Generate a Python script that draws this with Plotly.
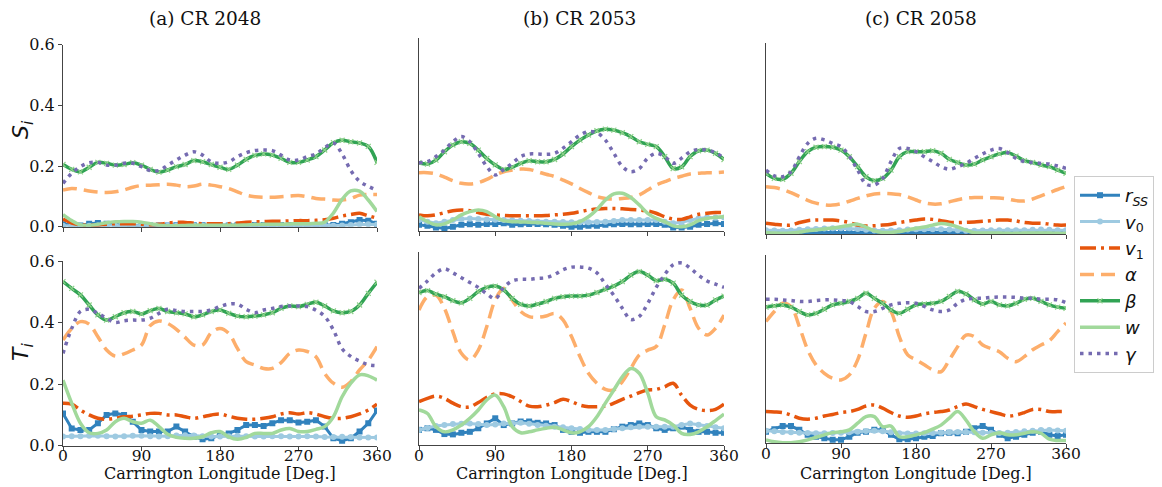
import plotly.graph_objects as go

W, H = 1162, 487
OFF = 8  # page body margin in the browser

LON = [0, 10, 20, 30, 40, 50, 60, 70, 80, 90, 100, 110, 120, 130, 140, 150, 160, 170, 180,
       190, 200, 210, 220, 230, 240, 250, 260, 270, 280, 290, 300, 310, 320, 330, 340, 350, 360]
X_TICKS = [0, 90, 180, 270, 360]
Y_TICKS = [0.0, 0.2, 0.4, 0.6]
Y_TICK_TEXT = ["0.0", "0.2", "0.4", "0.6"]
TITLES = ["(a) CR 2048", "(b) CR 2053", "(c) CR 2058"]
SERIES = ["rss", "v0", "v1", "alpha", "beta", "w", "gamma"]
LABELS = ["<i>r</i><sub><i>SS</i></sub>", "<i>v</i><sub>0</sub>", "<i>v</i><sub>1</sub>",
          "<i>α</i>", "<i>β</i>", "<i>w</i>", "<i>γ</i>"]

# ---------------- CR 2048, S_i ----------------
RSS_S_2048 = [0.008, 0.005, 0.004, 0.01, 0.012, 0.01, 0.006, 0.004, 0.004, 0.004, 0.004, 0.004, 0.004, 0.005, 0.005, 0.005, 0.005, 0.004, 0.004,
              0.004, 0.005, 0.005, 0.006, 0.006, 0.006, 0.006, 0.006, 0.006, 0.006, 0.006, 0.006, 0.006, 0.01, 0.015, 0.022, 0.02, 0.01]
V0_S_2048 = [0.003, 0.003, 0.002, 0.003, 0.004, 0.004, 0.003, 0.003, 0.003, 0.003, 0.002, 0.002, 0.003, 0.003, 0.004, 0.004, 0.003, 0.003, 0.003,
             0.003, 0.003, 0.003, 0.004, 0.004, 0.004, 0.004, 0.003, 0.003, 0.003, 0.003, 0.003, 0.003, 0.004, 0.006, 0.008, 0.008, 0.007]
V1_S_2048 = [0.025, 0.012, 0.006, 0.005, 0.006, 0.008, 0.01, 0.01, 0.01, 0.008, 0.006, 0.008, 0.012, 0.015, 0.014, 0.012, 0.01, 0.01, 0.01,
             0.01, 0.012, 0.015, 0.016, 0.017, 0.018, 0.018, 0.019, 0.02, 0.02, 0.021, 0.023, 0.028, 0.035, 0.04, 0.044, 0.036, 0.028]
ALPHA_S_2048 = [0.121, 0.126, 0.123, 0.118, 0.114, 0.113, 0.115, 0.121, 0.13, 0.136, 0.137, 0.138, 0.14, 0.137, 0.132, 0.134, 0.14, 0.137, 0.132,
                0.126, 0.115, 0.104, 0.099, 0.097, 0.097, 0.099, 0.101, 0.103, 0.099, 0.093, 0.091, 0.088, 0.088, 0.093, 0.104, 0.106, 0.106]
BETA_S_2048 = [0.205, 0.189, 0.181, 0.196, 0.212, 0.209, 0.203, 0.205, 0.211, 0.203, 0.189, 0.18, 0.187, 0.198, 0.205, 0.218, 0.214, 0.205, 0.196,
               0.189, 0.203, 0.222, 0.235, 0.24, 0.236, 0.225, 0.212, 0.212, 0.22, 0.231, 0.253, 0.277, 0.285, 0.28, 0.276, 0.265, 0.212]
W_S_2048 = [0.04, 0.02, 0.006, 0.004, 0.008, 0.013, 0.016, 0.017, 0.017, 0.015, 0.01, 0.005, 0.003, 0.003, 0.004, 0.005, 0.005, 0.005, 0.005,
            0.005, 0.005, 0.006, 0.007, 0.008, 0.008, 0.008, 0.009, 0.01, 0.01, 0.011, 0.015, 0.045, 0.09, 0.118, 0.117, 0.088, 0.05]
GAMMA_S_2048 = [0.143, 0.176, 0.198, 0.211, 0.212, 0.203, 0.203, 0.209, 0.209, 0.198, 0.185, 0.185, 0.203, 0.22, 0.236, 0.247, 0.236, 0.214, 0.209,
                0.214, 0.231, 0.244, 0.251, 0.253, 0.251, 0.236, 0.22, 0.22, 0.231, 0.24, 0.26, 0.276, 0.24, 0.185, 0.15, 0.133, 0.12]

# ---------------- CR 2048, T_i ----------------
RSS_T_2048 = [0.105, 0.056, 0.051, 0.051, 0.073, 0.1, 0.105, 0.1, 0.078, 0.051, 0.046, 0.046, 0.046, 0.062, 0.046, 0.029, 0.021, 0.024, 0.035,
              0.04, 0.051, 0.067, 0.067, 0.064, 0.073, 0.083, 0.083, 0.075, 0.078, 0.083, 0.062, 0.024, 0.016, 0.024, 0.046, 0.073, 0.114]
V0_T_2048 = [0.03, 0.031, 0.031, 0.032, 0.032, 0.031, 0.03, 0.031, 0.032, 0.032, 0.031, 0.03, 0.031, 0.033, 0.034, 0.033, 0.031, 0.03, 0.03,
             0.031, 0.032, 0.031, 0.03, 0.03, 0.031, 0.031, 0.03, 0.03, 0.031, 0.03, 0.028, 0.028, 0.029, 0.028, 0.027, 0.027, 0.027]
V1_T_2048 = [0.138, 0.135, 0.116, 0.1, 0.089, 0.086, 0.089, 0.094, 0.096, 0.1, 0.105, 0.105, 0.1, 0.1, 0.094, 0.089, 0.094, 0.1, 0.103,
             0.096, 0.089, 0.086, 0.086, 0.089, 0.094, 0.103, 0.107, 0.103, 0.107, 0.103, 0.094, 0.089, 0.089, 0.094, 0.103, 0.116, 0.135]
ALPHA_T_2048 = [0.343, 0.381, 0.403, 0.395, 0.354, 0.311, 0.291, 0.298, 0.311, 0.327, 0.39, 0.405, 0.397, 0.378, 0.352, 0.327, 0.327, 0.367, 0.381,
                0.365, 0.316, 0.273, 0.262, 0.251, 0.251, 0.27, 0.3, 0.311, 0.306, 0.289, 0.235, 0.203, 0.19, 0.208, 0.246, 0.278, 0.322]
BETA_T_2048 = [0.533, 0.511, 0.49, 0.457, 0.425, 0.408, 0.419, 0.432, 0.436, 0.428, 0.439, 0.446, 0.436, 0.432, 0.428, 0.419, 0.425, 0.436, 0.441,
               0.43, 0.421, 0.419, 0.421, 0.425, 0.432, 0.446, 0.454, 0.452, 0.459, 0.466, 0.454, 0.438, 0.432, 0.436, 0.457, 0.495, 0.531]
W_T_2048 = [0.213, 0.138, 0.073, 0.042, 0.04, 0.051, 0.078, 0.089, 0.078, 0.073, 0.083, 0.062, 0.037, 0.027, 0.024, 0.024, 0.029, 0.042, 0.046,
            0.029, 0.021, 0.027, 0.04, 0.04, 0.04, 0.051, 0.056, 0.046, 0.046, 0.053, 0.062, 0.094, 0.159, 0.203, 0.23, 0.227, 0.213]
GAMMA_T_2048 = [0.3, 0.381, 0.436, 0.443, 0.43, 0.414, 0.4, 0.406, 0.408, 0.408, 0.414, 0.43, 0.443, 0.439, 0.436, 0.436, 0.436, 0.441, 0.452,
                0.46, 0.46, 0.443, 0.432, 0.441, 0.446, 0.452, 0.454, 0.454, 0.452, 0.44, 0.42, 0.376, 0.315, 0.29, 0.275, 0.263, 0.26]

# ---------------- CR 2053, S_i ----------------
RSS_S_2053 = [0.02, 0.017, 0.012, 0.009, 0.014, 0.02, 0.022, 0.02, 0.023, 0.023, 0.025, 0.02, 0.022, 0.023, 0.023, 0.022, 0.02, 0.017, 0.014,
              0.014, 0.017, 0.017, 0.02, 0.022, 0.023, 0.022, 0.022, 0.023, 0.023, 0.02, 0.012, 0.012, 0.014, 0.02, 0.023, 0.025, 0.023]
V0_S_2053 = [0.035, 0.03, 0.025, 0.03, 0.035, 0.038, 0.04, 0.038, 0.037, 0.036, 0.035, 0.034, 0.033, 0.032, 0.03, 0.03, 0.03, 0.029, 0.028,
             0.028, 0.028, 0.029, 0.03, 0.032, 0.035, 0.035, 0.035, 0.035, 0.035, 0.03, 0.025, 0.028, 0.035, 0.04, 0.043, 0.043, 0.043]
V1_S_2053 = [0.051, 0.048, 0.051, 0.058, 0.064, 0.066, 0.064, 0.058, 0.053, 0.051, 0.049, 0.048, 0.048, 0.048, 0.048, 0.049, 0.051, 0.053, 0.056,
             0.061, 0.066, 0.069, 0.071, 0.071, 0.07, 0.068, 0.066, 0.063, 0.056, 0.045, 0.038, 0.037, 0.045, 0.053, 0.056, 0.058, 0.058]
ALPHA_S_2053 = [0.182, 0.182, 0.178, 0.168, 0.157, 0.149, 0.147, 0.151, 0.161, 0.175, 0.185, 0.19, 0.193, 0.192, 0.185, 0.177, 0.17, 0.159, 0.147,
                0.133, 0.12, 0.108, 0.102, 0.1, 0.102, 0.105, 0.113, 0.128, 0.144, 0.154, 0.164, 0.171, 0.178, 0.18, 0.182, 0.182, 0.184]
BETA_S_2053 = [0.213, 0.209, 0.221, 0.247, 0.268, 0.278, 0.273, 0.252, 0.226, 0.206, 0.192, 0.199, 0.211, 0.219, 0.216, 0.216, 0.223, 0.24, 0.263,
               0.283, 0.299, 0.312, 0.317, 0.314, 0.306, 0.294, 0.278, 0.27, 0.263, 0.232, 0.195, 0.2, 0.232, 0.25, 0.252, 0.242, 0.223]
W_S_2053 = [0.045, 0.03, 0.02, 0.023, 0.035, 0.051, 0.061, 0.066, 0.061, 0.045, 0.033, 0.03, 0.029, 0.028, 0.027, 0.025, 0.023, 0.022, 0.023,
            0.03, 0.045, 0.068, 0.097, 0.116, 0.118, 0.105, 0.082, 0.056, 0.04, 0.03, 0.017, 0.014, 0.02, 0.033, 0.04, 0.043, 0.045]
GAMMA_S_2053 = [0.213, 0.216, 0.232, 0.252, 0.278, 0.294, 0.278, 0.242, 0.201, 0.175, 0.192, 0.211, 0.232, 0.24, 0.24, 0.239, 0.242, 0.258, 0.278,
                0.299, 0.309, 0.306, 0.283, 0.242, 0.201, 0.185, 0.195, 0.227, 0.242, 0.232, 0.211, 0.227, 0.247, 0.254, 0.252, 0.244, 0.227]

# ---------------- CR 2053, T_i ----------------
RSS_T_2053 = [0.047, 0.052, 0.047, 0.034, 0.033, 0.038, 0.041, 0.052, 0.067, 0.083, 0.062, 0.067, 0.073, 0.073, 0.069, 0.067, 0.062, 0.047, 0.041,
              0.038, 0.041, 0.041, 0.041, 0.049, 0.057, 0.062, 0.067, 0.062, 0.052, 0.047, 0.052, 0.057, 0.047, 0.041, 0.041, 0.038, 0.038]
V0_T_2053 = [0.047, 0.053, 0.059, 0.062, 0.065, 0.066, 0.067, 0.065, 0.062, 0.064, 0.067, 0.068, 0.069, 0.066, 0.062, 0.06, 0.057, 0.055, 0.052,
             0.05, 0.047, 0.047, 0.047, 0.05, 0.052, 0.055, 0.057, 0.057, 0.057, 0.057, 0.057, 0.062, 0.067, 0.063, 0.059, 0.055, 0.052]
V1_T_2053 = [0.135, 0.145, 0.152, 0.145, 0.13, 0.119, 0.119, 0.132, 0.148, 0.159, 0.159, 0.15, 0.135, 0.121, 0.119, 0.124, 0.132, 0.142, 0.135,
             0.124, 0.119, 0.119, 0.121, 0.13, 0.142, 0.152, 0.163, 0.171, 0.173, 0.181, 0.192, 0.155, 0.124, 0.111, 0.107, 0.111, 0.127]
ALPHA_T_2053 = [0.42, 0.461, 0.466, 0.425, 0.352, 0.285, 0.264, 0.295, 0.368, 0.451, 0.487, 0.451, 0.415, 0.399, 0.397, 0.401, 0.409, 0.389, 0.337,
                0.275, 0.223, 0.192, 0.173, 0.171, 0.197, 0.238, 0.28, 0.295, 0.306, 0.373, 0.451, 0.482, 0.425, 0.363, 0.342, 0.363, 0.404]
BETA_T_2053 = [0.474, 0.48, 0.469, 0.461, 0.449, 0.442, 0.456, 0.477, 0.49, 0.494, 0.482, 0.456, 0.437, 0.432, 0.438, 0.446, 0.456, 0.461, 0.463,
               0.463, 0.466, 0.474, 0.484, 0.494, 0.508, 0.528, 0.539, 0.528, 0.511, 0.515, 0.503, 0.466, 0.446, 0.435, 0.435, 0.451, 0.463]
W_T_2053 = [0.109, 0.098, 0.057, 0.041, 0.047, 0.062, 0.083, 0.109, 0.14, 0.155, 0.119, 0.057, 0.038, 0.041, 0.047, 0.052, 0.055, 0.047, 0.038,
            0.041, 0.057, 0.088, 0.13, 0.171, 0.212, 0.238, 0.223, 0.161, 0.088, 0.078, 0.062, 0.036, 0.033, 0.041, 0.057, 0.076, 0.096]
GAMMA_T_2053 = [0.487, 0.51, 0.535, 0.548, 0.535, 0.52, 0.505, 0.49, 0.47, 0.455, 0.49, 0.51, 0.515, 0.515, 0.518, 0.52, 0.53, 0.545, 0.553,
                0.553, 0.55, 0.535, 0.5, 0.465, 0.425, 0.39, 0.4, 0.44, 0.49, 0.53, 0.56, 0.566, 0.55, 0.528, 0.51, 0.5, 0.49]

# ---------------- CR 2058, S_i ----------------
RSS_S_2058 = [0.005, 0.005, 0.004, 0.004, 0.005, 0.006, 0.006, 0.005, 0.005, 0.006, 0.006, 0.005, 0.005, 0.004, 0.004, 0.005, 0.005, 0.006, 0.006,
              0.006, 0.006, 0.005, 0.005, 0.005, 0.004, 0.004, 0.005, 0.005, 0.005, 0.006, 0.006, 0.005, 0.005, 0.005, 0.006, 0.006, 0.005]
V0_S_2058 = [0.012, 0.011, 0.01, 0.011, 0.013, 0.015, 0.016, 0.017, 0.018, 0.018, 0.018, 0.016, 0.013, 0.011, 0.01, 0.011, 0.012, 0.014, 0.015,
             0.015, 0.015, 0.015, 0.014, 0.012, 0.01, 0.01, 0.011, 0.012, 0.012, 0.012, 0.012, 0.012, 0.013, 0.014, 0.013, 0.012, 0.012]
V1_S_2058 = [0.034, 0.031, 0.028, 0.028, 0.036, 0.042, 0.044, 0.044, 0.044, 0.041, 0.036, 0.028, 0.025, 0.026, 0.028, 0.031, 0.036, 0.04, 0.044,
             0.047, 0.046, 0.042, 0.037, 0.036, 0.037, 0.038, 0.04, 0.042, 0.044, 0.044, 0.041, 0.036, 0.034, 0.034, 0.031, 0.028, 0.028]
ALPHA_S_2058 = [0.149, 0.146, 0.14, 0.13, 0.118, 0.106, 0.097, 0.092, 0.091, 0.095, 0.103, 0.112, 0.12, 0.126, 0.128, 0.127, 0.124, 0.117, 0.107,
                0.098, 0.094, 0.095, 0.101, 0.108, 0.113, 0.115, 0.115, 0.114, 0.113, 0.11, 0.105, 0.104, 0.11, 0.12, 0.13, 0.14, 0.149]
BETA_S_2058 = [0.191, 0.175, 0.172, 0.191, 0.228, 0.259, 0.273, 0.275, 0.273, 0.264, 0.243, 0.212, 0.18, 0.168, 0.175, 0.201, 0.243, 0.259, 0.259,
               0.259, 0.262, 0.254, 0.235, 0.225, 0.217, 0.22, 0.233, 0.243, 0.252, 0.256, 0.245, 0.231, 0.225, 0.217, 0.212, 0.201, 0.191]
W_S_2058 = [0.005, 0.003, 0.002, 0.003, 0.006, 0.01, 0.013, 0.016, 0.019, 0.023, 0.027, 0.031, 0.022, 0.01, 0.005, 0.005, 0.008, 0.013, 0.018,
            0.022, 0.028, 0.033, 0.03, 0.022, 0.012, 0.004, 0.003, 0.003, 0.003, 0.002, 0.002, 0.003, 0.003, 0.003, 0.003, 0.002, 0.002]
GAMMA_S_2058 = [0.201, 0.183, 0.18, 0.196, 0.243, 0.285, 0.301, 0.296, 0.285, 0.275, 0.245, 0.201, 0.157, 0.154, 0.175, 0.228, 0.269, 0.269, 0.259,
                0.243, 0.228, 0.212, 0.204, 0.212, 0.222, 0.238, 0.252, 0.264, 0.269, 0.256, 0.238, 0.228, 0.225, 0.222, 0.22, 0.214, 0.207]

# ---------------- CR 2058, T_i ----------------
RSS_T_2058 = [0.037, 0.045, 0.055, 0.055, 0.043, 0.027, 0.021, 0.016, 0.011, 0.011, 0.021, 0.034, 0.037, 0.043, 0.043, 0.027, 0.013, 0.013, 0.016,
              0.021, 0.023, 0.032, 0.034, 0.032, 0.037, 0.048, 0.055, 0.043, 0.027, 0.016, 0.021, 0.027, 0.034, 0.037, 0.027, 0.023, 0.027]
V0_T_2058 = [0.04, 0.038, 0.036, 0.035, 0.034, 0.033, 0.032, 0.032, 0.033, 0.034, 0.035, 0.037, 0.039, 0.04, 0.038, 0.035, 0.032, 0.031, 0.031,
             0.032, 0.033, 0.034, 0.035, 0.036, 0.036, 0.035, 0.034, 0.033, 0.033, 0.034, 0.036, 0.038, 0.04, 0.042, 0.042, 0.041, 0.04]
V1_T_2058 = [0.101, 0.1, 0.098, 0.09, 0.08, 0.077, 0.08, 0.087, 0.092, 0.098, 0.101, 0.108, 0.119, 0.122, 0.112, 0.098, 0.087, 0.083, 0.087,
             0.094, 0.098, 0.101, 0.106, 0.117, 0.125, 0.117, 0.108, 0.101, 0.094, 0.087, 0.09, 0.098, 0.108, 0.108, 0.101, 0.101, 0.101]
ALPHA_T_2058 = [0.388, 0.42, 0.446, 0.436, 0.372, 0.298, 0.25, 0.223, 0.207, 0.202, 0.218, 0.266, 0.351, 0.43, 0.452, 0.42, 0.34, 0.282, 0.266,
                0.25, 0.234, 0.228, 0.266, 0.308, 0.345, 0.34, 0.313, 0.302, 0.292, 0.271, 0.26, 0.276, 0.298, 0.313, 0.327, 0.356, 0.383]
BETA_T_2058 = [0.434, 0.438, 0.441, 0.434, 0.42, 0.409, 0.414, 0.427, 0.441, 0.446, 0.452, 0.462, 0.478, 0.462, 0.446, 0.425, 0.414, 0.427, 0.441,
               0.444, 0.446, 0.452, 0.468, 0.484, 0.476, 0.457, 0.444, 0.452, 0.441, 0.438, 0.446, 0.459, 0.462, 0.452, 0.441, 0.434, 0.43]
W_T_2058 = [0.011, 0.005, 0.002, 0.002, 0.005, 0.011, 0.019, 0.027, 0.034, 0.037, 0.043, 0.064, 0.085, 0.085, 0.053, 0.055, 0.021, 0.021, 0.027,
            0.034, 0.045, 0.058, 0.08, 0.101, 0.074, 0.037, 0.016, 0.027, 0.034, 0.027, 0.027, 0.032, 0.037, 0.032, 0.013, 0.009, 0.009]
GAMMA_T_2058 = [0.459, 0.459, 0.457, 0.455, 0.452, 0.452, 0.455, 0.457, 0.457, 0.455, 0.452, 0.436, 0.42, 0.42, 0.43, 0.441, 0.446, 0.448, 0.446,
                0.436, 0.425, 0.42, 0.425, 0.446, 0.459, 0.462, 0.462, 0.465, 0.466, 0.466, 0.465, 0.462, 0.462, 0.459, 0.459, 0.457, 0.448]

PANELS = [
    (1, 1, [RSS_S_2048, V0_S_2048, V1_S_2048, ALPHA_S_2048, BETA_S_2048, W_S_2048, GAMMA_S_2048]),
    (2, 1, [RSS_T_2048, V0_T_2048, V1_T_2048, ALPHA_T_2048, BETA_T_2048, W_T_2048, GAMMA_T_2048]),
    (1, 2, [RSS_S_2053, V0_S_2053, V1_S_2053, ALPHA_S_2053, BETA_S_2053, W_S_2053, GAMMA_S_2053]),
    (2, 2, [RSS_T_2053, V0_T_2053, V1_T_2053, ALPHA_T_2053, BETA_T_2053, W_T_2053, GAMMA_T_2053]),
    (1, 3, [RSS_S_2058, V0_S_2058, V1_S_2058, ALPHA_S_2058, BETA_S_2058, W_S_2058, GAMMA_S_2058]),
    (2, 3, [RSS_T_2058, V0_T_2058, V1_T_2058, ALPHA_T_2058, BETA_T_2058, W_T_2058, GAMMA_T_2058]),
]

# ---- styling (screen-pixel boxes of each plot area: x0, x1, ytop, ybottom) ----
BOXES = {
    (1, 1): (63, 377, 44.7, 226.7),
    (2, 1): (63, 377, 261, 445.7),
    (1, 2): (419, 724, 38, 231.3),
    (2, 2): (419, 724, 252, 445),
    (1, 3): (766, 1066, 43.3, 234),
    (2, 3): (766, 1066, 255, 443.3),
}
COLORS = {"rss": "#3182bd", "v0": "#9ecae1", "v1": "#e6550d", "alpha": "#fdae6b",
          "beta": "#31a354", "w": "#a1d99b", "gamma": "#756bb1"}
STYLE = {
    "rss": dict(mode="lines+markers", line=dict(width=3, shape="linear"),
                marker=dict(symbol="square", size=6)),
    "v0": dict(mode="lines+markers", line=dict(width=3, shape="linear"),
               marker=dict(symbol="circle", size=6)),
    "v1": dict(mode="lines", line=dict(width=3.5, shape="spline", dash="16px,5px,3px,5px")),
    "alpha": dict(mode="lines", line=dict(width=3.5, shape="spline", dash="14px,7px")),
    "beta": dict(mode="lines+markers", line=dict(width=3.5, shape="spline"),
                 marker=dict(symbol="x-thin", size=5, line=dict(width=1.2, color="#8fd18a"))),
    "w": dict(mode="lines", line=dict(width=3.5, shape="spline")),
    "gamma": dict(mode="lines", line=dict(width=3.5, shape="spline", dash="3.5px,5px")),
}

SERIF = "DejaVu Serif"
SANS = "DejaVu Sans"
AXC = "#444444"


def px(x):
    return (x - OFF) / W


def py(y):
    return 1 - (y - OFF) / H


fig = go.Figure()
layout = dict(
    width=W, height=H, margin=dict(l=0, r=0, t=0, b=0, autoexpand=False),
    paper_bgcolor="white", plot_bgcolor="white", showlegend=True,
    legend=dict(x=px(1074), y=py(176), xanchor="left", yanchor="top",
                bgcolor="white", bordercolor="#cccccc", borderwidth=1,
                font=dict(family=SANS, size=18, color="#111111"),
                tracegroupgap=0, itemwidth=40),
)

annotations = []
for idx, (row, col, data) in enumerate(PANELS):
    n = idx + 1
    xa = "xaxis" if n == 1 else f"xaxis{n}"
    ya = "yaxis" if n == 1 else f"yaxis{n}"
    xref = "x" if n == 1 else f"x{n}"
    yref = "y" if n == 1 else f"y{n}"
    x0, x1, yt, yb = BOXES[(row, col)]
    layout[xa] = dict(domain=[px(x0), px(x1)], anchor=yref, range=[0, 360],
                      tickvals=X_TICKS, ticktext=[str(v) for v in X_TICKS],
                      showticklabels=(row == 2), ticks="outside", ticklen=4, tickcolor=AXC,
                      ticklabelstandoff=-8,
                      showline=True, linecolor=AXC, linewidth=1, showgrid=False, zeroline=False,
                      tickfont=dict(family=SERIF, size=15.5, color="#111111"))
    layout[ya] = dict(domain=[py(yb), py(yt)], anchor=xref, range=[0, 0.6],
                      tickvals=Y_TICKS, ticktext=Y_TICK_TEXT,
                      showticklabels=(col == 1), ticks="outside" if col == 1 else "",
                      ticklen=4, tickcolor=AXC,
                      showline=True, linecolor=AXC, linewidth=1, showgrid=False, zeroline=False,
                      tickfont=dict(family=SERIF, size=16, color="#111111"))
    for s, name, vals in zip(SERIES, LABELS, data):
        st = STYLE[s]
        line = dict(st["line"], color=COLORS[s])
        kw = dict(x=LON, y=vals, mode=st["mode"], line=line, name=name,
                  legendgroup=s, showlegend=(n == 1), xaxis=xref, yaxis=yref)
        if "marker" in st:
            m = dict(st["marker"])
            m["color"] = COLORS[s]
            kw["marker"] = m
        fig.add_trace(go.Scatter(**kw))

# titles
for cx, t in zip([205, 579, 921], TITLES):
    annotations.append(dict(text=t, x=px(cx), y=py(18), xref="paper", yref="paper",
                            showarrow=False, xanchor="center", yanchor="middle",
                            height=20, borderpad=0, valign="middle",
                            font=dict(family=SERIF, size=18.5, color="#111111")))
# x axis titles
for cx in [220, 571.5, 916]:
    annotations.append(dict(text="Carrington Longitude [Deg.]", x=px(cx), y=py(473),
                            xref="paper", yref="paper", showarrow=False,
                            xanchor="center", yanchor="middle",
                            font=dict(family=SERIF, size=16, color="#111111")))
# y axis titles
annotations.append(dict(text="<i>S</i><sub><i>i</i></sub>", x=px(22), y=py(130),
                        xref="paper", yref="paper", showarrow=False, textangle=-90,
                        xanchor="center", yanchor="middle",
                        font=dict(family=SANS, size=22, color="#111111")))
annotations.append(dict(text="<i>T</i><sub><i>i</i></sub>", x=px(22), y=py(352),
                        xref="paper", yref="paper", showarrow=False, textangle=-90,
                        xanchor="center", yanchor="middle",
                        font=dict(family=SANS, size=22, color="#111111")))
layout["annotations"] = annotations
fig.update_layout(**layout)
fig.write_html("out.html")
